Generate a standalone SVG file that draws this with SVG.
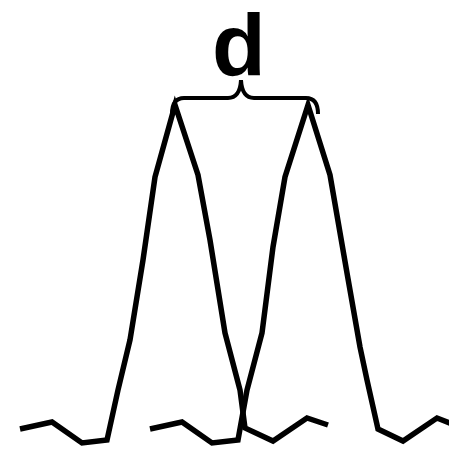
<svg xmlns="http://www.w3.org/2000/svg" width="449" height="450" viewBox="0 0 449 450">
<style>
.w{fill:none;stroke:#000;stroke-width:5.5;stroke-linejoin:miter;stroke-linecap:butt}
.b{fill:none;stroke:#000;stroke-width:4}
.t{font-family:"Liberation Sans",Arial,sans-serif;font-weight:bold;font-size:88px;fill:#000}
</style>
<rect width="449" height="450" fill="#fff"/>
<g id="peak1">
<polyline class="w" points="20,429 52,422 82,443 107,440 118,390 130,340 143,260 155,177 175,105 198,175 210,240 225,333 240,390 245,428 273,441 307,418 328,425"/>
</g>
<g id="peak2">
<polyline class="w" points="150,429 182,422 212,443 238,440 247,390 262,333 273,247 285,177 308,105 330,175 347,273 360,347 367,380 378,429 403,441 437,418 452,424"/>
</g>
<g id="brace">
<path class="b" d="M172,114 Q172,98 184,98 L228,98 Q240,98 241,80 Q242,98 254,98 L306,98 Q318,98 318,114"/>
</g>
<g id="label">
<text class="t" x="239" y="75" text-anchor="middle">d</text>
</g>
</svg>
